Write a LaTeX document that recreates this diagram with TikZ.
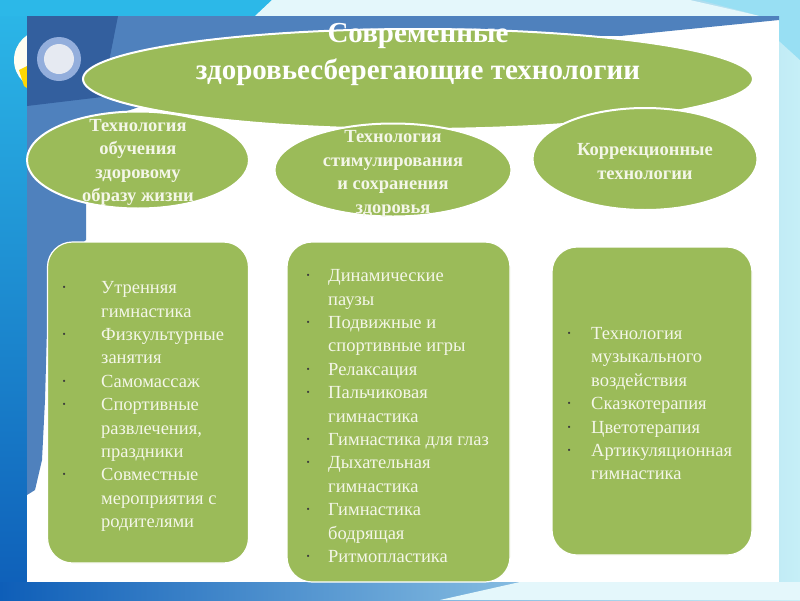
\documentclass[tikz,border=0pt]{standalone}
\usepackage{fontspec}
\setmainfont{Liberation Serif}
\usetikzlibrary{shapes.geometric}
\definecolor{grn}{HTML}{9BBB59}
\definecolor{txt}{HTML}{F4F6E8}
\definecolor{dot}{HTML}{3C3C3C}
\definecolor{mblue}{HTML}{4F81BD}
\definecolor{dblue}{HTML}{335F9E}
\definecolor{ring}{HTML}{93AEDC}
\definecolor{ringin}{HTML}{E6EAF2}
\definecolor{bgblue}{HTML}{0E5EB8}
\definecolor{bgcyan}{HTML}{2CB8E8}
\definecolor{bgpale}{HTML}{E4F7FB}
\definecolor{bgpale2}{HTML}{C6EFF7}
\tikzset{
  oval/.style={ellipse, fill=grn, draw=white, line width=2pt, inner sep=0pt,
    text=txt, align=center, font=\fontsize{18.5}{23.5}\selectfont\bfseries},
  ovaltext/.style={inner sep=0pt, text=txt, align=center,
    font=\fontsize{18.5}{23.5}\selectfont\bfseries},
  listbox/.style={rounded corners=25pt, fill=grn, draw=white, line width=1.2pt},
  listtext/.style={anchor=west, inner sep=0pt, text=txt, align=left,
    font=\fontsize{18.5}{23.4}\selectfont},
}
\newcommand{\bdot}{\textcolor{dot}{·}}
\begin{document}
\begin{tikzpicture}[x=1pt,y=-1pt]
\useasboundingbox (0,0) rectangle (800,600);
% background
\fill[left color=bgblue, middle color=bgpale, right color=bgpale2] (0,0) rectangle (800,600);
\fill[top color=bgcyan, bottom color=bgblue] (0,0) rectangle (27,600);
\fill[bgcyan] (0,0) rectangle (280,16);
\fill[bgpale] (255,16) -- (272,0) -- (690,0) -- (760,16) -- cycle;
\fill[bgpale2!70!bgcyan] (700,0) -- (800,0) -- (800,60) -- (778,40) -- (760,16) -- cycle;
\fill[left color=bgblue, right color=bgpale2] (0,582) rectangle (800,600);
\fill[bgpale] (440,600) -- (520,582) -- (800,582) -- (800,600) -- cycle;
% ball behind panel
\fill[white!95!yellow] (44,60) circle (30);
\fill[yellow!75!orange] (19,70) -- (24,86) -- (27,88) -- (27,66) -- cycle;
% white panel
\fill[white] (27,16) rectangle (779,582);
% blue decoration
\fill[mblue] (27,16) -- (779,16) -- (779,20) -- (620,36) -- (300,34) -- (240,40)
  -- (160,100) -- (100,120) -- (86,150) -- (86,240) -- (60,262) -- (47,330)
  -- (45,400) -- (42,460) -- (35,490) -- (27,495) -- cycle;
\fill[dblue] (27,16) -- (118,16) -- (102,97) -- (27,106) -- cycle;
\fill[ring] (59,59) circle (22);
\fill[ringin] (59,59) circle (15);
% ovals
\node[oval, minimum width=670pt, minimum height=100pt] (top) at (418,79) {};
\node[inner sep=0pt, text=white, align=center,
  font=\fontsize{29}{37}\selectfont\bfseries] (title) at (418,54)
  {Современные\\здоровьесберегающие технологии};
\node[oval, minimum width=222pt, minimum height=97pt] (o1) at (138,160) {};
\node[ovaltext] (t1) at (138,162.5) {Технология\\обучения\\здоровому\\образу жизни};
\node[oval, minimum width=237pt, minimum height=93pt] (o2) at (393,170) {};
\node[ovaltext] (t2) at (393,174) {Технология\\стимулирования\\и сохранения\\здоровья};
\node[oval, minimum width=225pt, minimum height=102pt] (o3) at (645,159) {};
\node[ovaltext] (t3) at (645,161.5) {Коррекционные\\технологии};
% boxes
\node[listbox, minimum width=201pt, minimum height=321pt] (b1) at (148,402.5) {};
\node[listbox, minimum width=223pt, minimum height=340pt] (b2) at (398.5,412) {};
\node[listbox, minimum width=200pt, minimum height=308pt] (b3) at (652,401) {};
\node[listtext] (l1) at (61,406) {\begin{tabular}{@{}p{40pt}@{}l@{}}
\bdot & Утренняя\\ & гимнастика\\
\bdot & Физкультурные\\ & занятия\\
\bdot & Самомассаж\\
\bdot & Спортивные\\ & развлечения,\\ & праздники\\
\bdot & Совместные\\ & мероприятия с\\ & родителями
\end{tabular}};
\node[listtext] (l2) at (305,417.5) {\begin{tabular}{@{}p{23pt}@{}l@{}}
\bdot & Динамические\\ & паузы\\
\bdot & Подвижные и\\ & спортивные игры\\
\bdot & Релаксация\\
\bdot & Пальчиковая\\ & гимнастика\\
\bdot & Гимнастика для глаз\\
\bdot & Дыхательная\\ & гимнастика\\
\bdot & Гимнастика\\ & бодрящая\\
\bdot & Ритмопластика
\end{tabular}};
\node[listtext] (l3) at (566,405) {\begin{tabular}{@{}p{25pt}@{}l@{}}
\bdot & Технология\\ & музыкального\\ & воздействия\\
\bdot & Сказкотерапия\\
\bdot & Цветотерапия\\
\bdot & Артикуляционная\\ & гимнастика
\end{tabular}};
\end{tikzpicture}
\end{document}
